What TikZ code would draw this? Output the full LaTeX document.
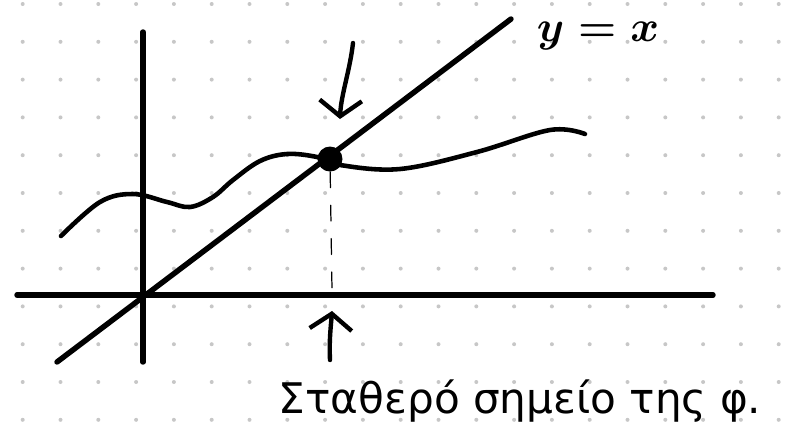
\documentclass[tikz,border=0pt]{standalone}
\usepackage{fontspec}
\newfontfamily\greekfont{DejaVu Sans}
\usetikzlibrary{arrows.meta, positioning}

\begin{document}
\begin{tikzpicture}[
    x=0.02cm, y=-0.02cm,
    griddot/.style={fill=black!22},
    axis/.style={line width=3.1pt, line cap=round},
    graphline/.style={line width=2.6pt, line cap=round},
    pointer/.style={line width=2.5pt, line cap=round, line join=round, -{Straight Barb[length=9pt, width=24pt]}},
    guide/.style={line width=0.7pt, line cap=round, dash pattern=on 9pt off 10pt},
    fixdot/.style={circle, fill, inner sep=0pt, minimum size=0.5cm},
    label/.style={inner sep=0pt}
]
\useasboundingbox (0,0) rectangle (785,441);

% Dotted paper
\foreach \i in {0,...,20}
  \foreach \j in {0,...,11}
    \fill[griddot] (22.7+37.8*\i, 4+37.8*\j) circle (2);

% Axes
\draw[axis] (17,295) -- (713,295);
\draw[axis] (143,32) -- (143,362);

% Line y = x
\draw[axis] (57,362) -- (511,19);

% Graph of phi
\draw[graphline] plot[smooth, tension=0.6] coordinates {
  (61,236) (100,202) (133,194) (167,202) (190,207) (213,197)
  (233,180) (260,161) (287,154) (317,157) (340,165) (400,169)
  (477,152) (550,130) (585,134)};

% Fixed point
\node[fixdot] (fixpt) at (330,159) {};
\coordinate (foot) at (332,290);
\draw[guide] (fixpt) -- (foot);

% Arrows
\coordinate (downtail) at (353,43);
\coordinate (downtip) at (340,119);
\coordinate (uptail) at (330,360);
\coordinate (uptip) at (332,311);
\draw[pointer] (downtail) .. controls (350,70) and (341,95) .. (downtip);
\draw[pointer] (uptail) .. controls (329,340) and (331,325) .. (uptip);

% Labels
\node[label, font=\fontsize{32}{34}\selectfont\boldmath] (eqlabel) at (598,36) {$y = x$};
\node[label, font=\greekfont\fontsize{24}{27}\selectfont] (caption) at (520,401) {Σταθερό σημείο της φ.};
\end{tikzpicture}
\end{document}
